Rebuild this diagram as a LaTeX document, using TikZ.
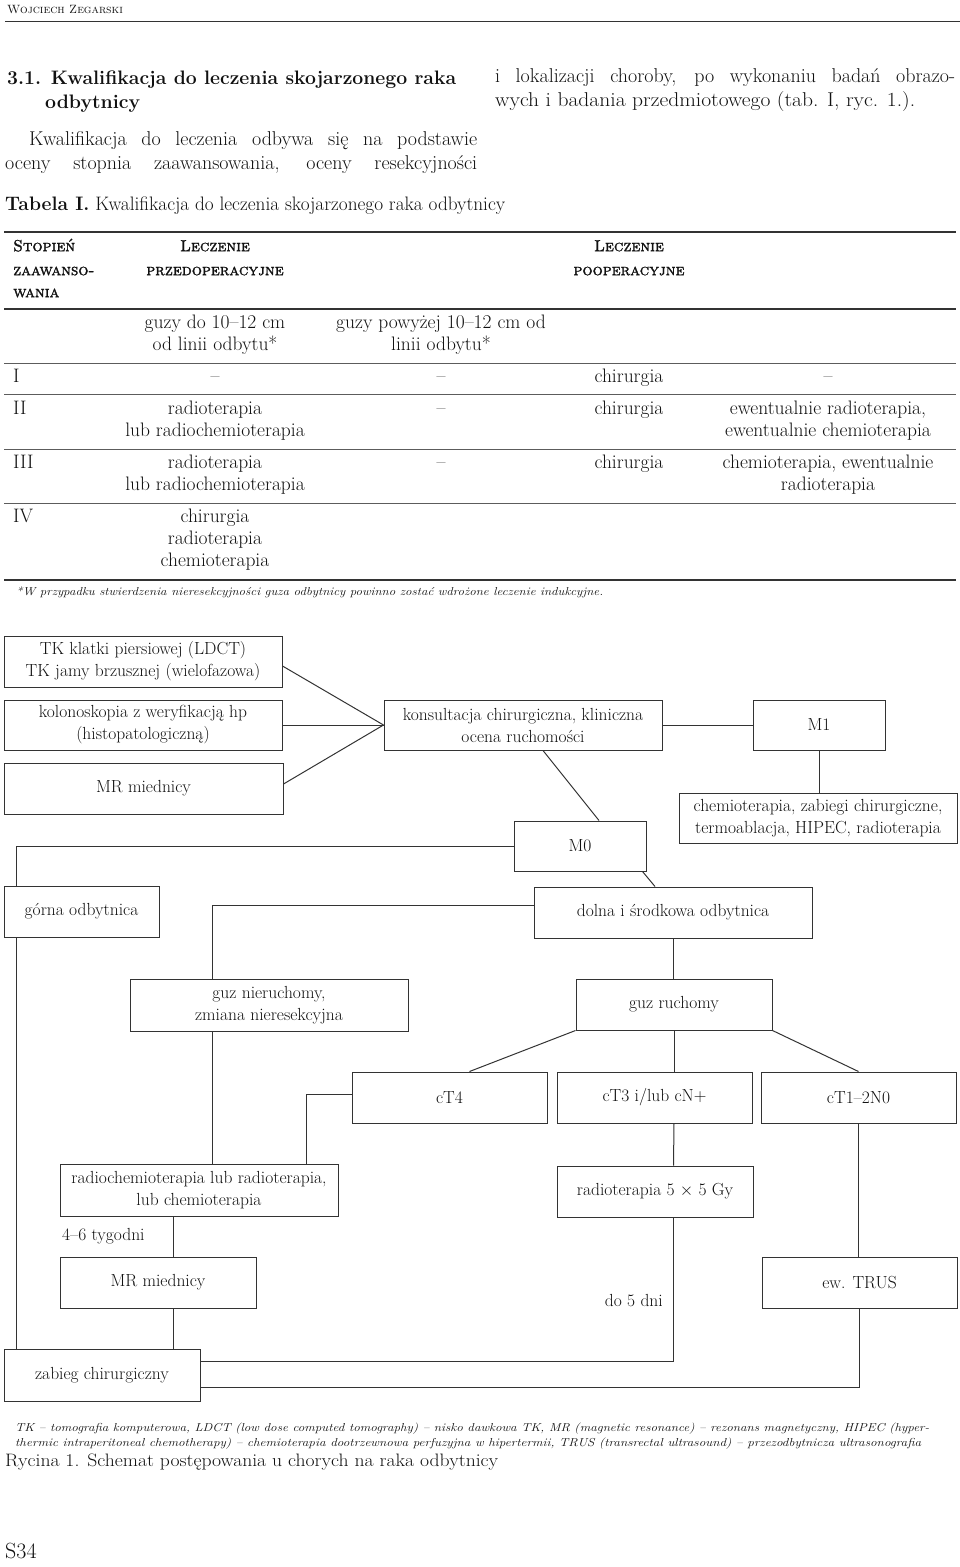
\documentclass[tikz,border=0pt]{standalone}
\usepackage{fontspec}
\usepackage{graphicx}
\usetikzlibrary{calc}
\newfontfamily\zfcapsb{lmromancaps10-regular.otf}[FakeBold=1.6]
\definecolor{ln}{HTML}{333333}
\definecolor{tx}{HTML}{111111}
\newcommand\zfSmall{\fontsize{12}{14}\selectfont}
\newcommand\zfHead{\fontsize{19.5}{24}\selectfont\bfseries}
\newcommand\zfBody{\fontsize{20}{24}\selectfont}
\newcommand\zfCell{\fontsize{19.5}{22}\selectfont}
\newcommand\zfSC{\fontsize{16}{22}\selectfont\zfcapsb}
\newcommand\zfFlow{\fontsize{17.5}{22}\selectfont}
\newcommand\zfNote{\fontsize{11.5}{15}\selectfont\itshape}
\newcommand\zfit[2]{\resizebox{#1}{\height}{#2}}
\begin{document}
\begin{tikzpicture}[x=1pt,y=-1pt,
  txt/.style={inner sep=0pt, text=tx},
  box/.style={draw=ln, line width=1pt, align=center, inner sep=1pt, text=tx, font=\zfFlow},
  conn/.style={draw=ln, line width=1pt},
  thickrule/.style={draw=ln, line width=1.7pt},
  thinrule/.style={draw=ln!80, line width=0.9pt},
  lbl/.style={inner sep=0pt, text=tx, font=\zfFlow}
]
\useasboundingbox (0,0) rectangle (960,1567);
\fill[white] (0,0) rectangle (960,1567);

% page header
\node[txt, anchor=mid west, font=\zfSmall] (hdr) at (7,11) {\textsc{Wojciech Zegarski}};
\draw[draw=ln, line width=1pt] (5,21) -- (960,21);

% section heading and text
\node[txt, anchor=mid west] (h1) at (7,82) {\zfit{449pt}{\zfHead 3.1. Kwalifikacja do leczenia skojarzonego raka}};
\node[txt, anchor=mid west] (h2) at (45,106) {\zfHead odbytnicy};
\node[txt, anchor=mid west] (p1) at (29,143) {\zfBody\makebox[448pt][s]{Kwalifikacja do leczenia odbywa się na podstawie}};
\node[txt, anchor=mid west] (p2) at (5,167) {\zfBody\makebox[472pt][s]{oceny stopnia zaawansowania, oceny resekcyjności}};
\node[txt, anchor=mid west] (p3) at (495,80) {\zfBody\makebox[460pt][s]{i lokalizacji choroby, po wykonaniu badań obrazo-}};
\node[txt, anchor=mid west] (p4) at (495,104) {\zfit{420pt}{\zfBody wych i badania przedmiotowego (tab. I, ryc. 1.).}};

\node[txt, anchor=mid west] (cap) at (5,208) {\zfit{500pt}{\fontsize{19.5}{24}\selectfont\textbf{Tabela I.} Kwalifikacja do leczenia skojarzonego raka odbytnicy}};

% table rules
\draw[thickrule] (4,232) -- (956,232);
\draw[thickrule] (4,309) -- (956,309);
\draw[thinrule] (4,363) -- (956,363);
\draw[thinrule] (4,394) -- (956,394);
\draw[thinrule] (4,449) -- (956,449);
\draw[thinrule] (4,503) -- (956,503);
\draw[thickrule] (4,580) -- (956,580);

% table header
\node[txt, anchor=mid west, font=\zfSC] (th1) at (13,249) {Stopień};
\node[txt, anchor=mid west, font=\zfSC] (th2) at (13,273) {zaawanso-};
\node[txt, anchor=mid west, font=\zfSC] (th3) at (13,295) {wania};
\node[txt, anchor=mid, font=\zfSC] (th4) at (215,249) {Leczenie};
\node[txt, anchor=mid, font=\zfSC] (th5) at (215,273) {przedoperacyjne};
\node[txt, anchor=mid, font=\zfSC] (th6) at (629,249) {Leczenie};
\node[txt, anchor=mid, font=\zfSC] (th7) at (629,273) {pooperacyjne};

\node[txt, anchor=mid, font=\zfCell] (s1) at (215,326) {guzy do 10–12 cm};
\node[txt, anchor=mid, font=\zfCell] (s2) at (215,348) {od linii odbytu*};
\node[txt, anchor=mid, font=\zfCell] (s3) at (441,326) {guzy powyżej 10–12 cm od};
\node[txt, anchor=mid, font=\zfCell] (s4) at (441,348) {linii odbytu*};

% row I
\node[txt, anchor=mid west, font=\zfCell] (r1a) at (13,380) {I};
\node[txt, anchor=mid, font=\zfCell] (r1b) at (215,380) {–};
\node[txt, anchor=mid, font=\zfCell] (r1c) at (441,380) {–};
\node[txt, anchor=mid, font=\zfCell] (r1d) at (629,380) {chirurgia};
\node[txt, anchor=mid, font=\zfCell] (r1e) at (828,380) {–};
% row II
\node[txt, anchor=mid west, font=\zfCell] (r2a) at (13,412) {II};
\node[txt, anchor=mid, font=\zfCell] (r2b) at (215,412) {radioterapia};
\node[txt, anchor=mid, font=\zfCell] (r2b2) at (215,434) {lub radiochemioterapia};
\node[txt, anchor=mid, font=\zfCell] (r2c) at (441,412) {–};
\node[txt, anchor=mid, font=\zfCell] (r2d) at (629,412) {chirurgia};
\node[txt, anchor=mid, font=\zfCell] (r2e) at (828,412) {ewentualnie radioterapia,};
\node[txt, anchor=mid, font=\zfCell] (r2e2) at (828,434) {ewentualnie chemioterapia};
% row III
\node[txt, anchor=mid west, font=\zfCell] (r3a) at (13,466) {III};
\node[txt, anchor=mid, font=\zfCell] (r3b) at (215,466) {radioterapia};
\node[txt, anchor=mid, font=\zfCell] (r3b2) at (215,488) {lub radiochemioterapia};
\node[txt, anchor=mid, font=\zfCell] (r3c) at (441,466) {–};
\node[txt, anchor=mid, font=\zfCell] (r3d) at (629,466) {chirurgia};
\node[txt, anchor=mid, font=\zfCell] (r3e) at (828,466) {chemioterapia, ewentualnie};
\node[txt, anchor=mid, font=\zfCell] (r3e2) at (828,488) {radioterapia};
% row IV
\node[txt, anchor=mid west, font=\zfCell] (r4a) at (13,520) {IV};
\node[txt, anchor=mid, font=\zfCell] (r4b) at (215,520) {chirurgia};
\node[txt, anchor=mid, font=\zfCell] (r4b2) at (215,542) {radioterapia};
\node[txt, anchor=mid, font=\zfCell] (r4b3) at (215,564) {chemioterapia};

\node[txt, anchor=mid west] (tfn) at (16,593) {\zfit{587pt}{\zfNote *W przypadku stwierdzenia nieresekcyjności guza odbytnicy powinno zostać wdrożone leczenie indukcyjne.}};

% flowchart boxes
\node[box, minimum width=278pt, minimum height=51pt] (A) at (143,661.5) {TK klatki piersiowej (LDCT)\\TK jamy brzusznej (wielofazowa)};
\node[box, minimum width=278pt, minimum height=50pt] (B) at (143,725) {kolonoskopia z weryfikacją hp\\(histopatologiczną)};
\node[box, minimum width=279pt, minimum height=51pt] (C) at (143.5,788.5) {MR miednicy};
\node[box, minimum width=278pt, minimum height=50pt] (D) at (523,725) {konsultacja chirurgiczna, kliniczna\\ocena ruchomości};
\node[box, minimum width=132pt, minimum height=50pt] (M1) at (819,725) {M1};
\node[box, minimum width=278pt, minimum height=50pt] (E) at (818,818) {chemioterapia, zabiegi chirurgiczne,\\termoablacja, HIPEC, radioterapia};
\node[box, minimum width=132pt, minimum height=50pt] (M0) at (580,846) {M0};
\node[box, minimum width=155pt, minimum height=51pt] (G) at (81.5,911.5) {górna odbytnica};
\node[box, minimum width=278pt, minimum height=51pt] (Dl) at (673,912.5) {dolna i środkowa odbytnica};
\node[box, minimum width=278pt, minimum height=52pt] (N) at (269,1005) {guz nieruchomy,\\zmiana nieresekcyjna};
\node[box, minimum width=196pt, minimum height=51pt] (R) at (674,1004.5) {guz ruchomy};
\node[box, minimum width=195pt, minimum height=51pt] (T4) at (449.5,1097.5) {cT4};
\node[box, minimum width=195pt, minimum height=51pt] (T3) at (654.5,1097.5) {cT3 i/lub cN+};
\node[box, minimum width=195pt, minimum height=51pt] (T1) at (858.5,1097.5) {cT1–2N0};
\node[box, minimum width=278pt, minimum height=52pt] (RC) at (199,1190) {radiochemioterapia lub radioterapia,\\lub chemioterapia};
\node[box, minimum width=196pt, minimum height=51pt] (MR2) at (158,1282.5) {MR miednicy};
\node[box, minimum width=196pt, minimum height=52pt] (Z) at (102,1375) {zabieg chirurgiczny};
\node[box, minimum width=196pt, minimum height=51pt] (R5) at (655,1191.5) {radioterapia 5 $\times$ 5 Gy};
\node[box, minimum width=195pt, minimum height=51pt] (TR) at (859.5,1282.5) {ew. TRUS};

% connectors
\draw[conn] ([yshift=-4.5pt]A.east) -- (D.west);
\draw[conn] (B.east) -- (D.west);
\draw[conn] ([yshift=4.5pt]C.east) -- (D.west);
\draw[conn] (D.east) -- (M1.west);
\draw[conn] (M1.south) -- (M1.south |- E.north);
\draw[conn] ([xshift=20pt]D.south) -- ([xshift=19pt]M0.north);
\draw[conn] (M0.west) -| ([xshift=13pt]G.north west);
\draw[conn] ([xshift=-4pt]M0.south east) -- ([xshift=-18pt]Dl.north);
\draw[conn] ([xshift=13pt]G.south west) -- ([xshift=13pt]Z.north west);
\draw[conn] ([yshift=7.5pt]Dl.west) -| ([xshift=-57pt]N.north);
\draw[conn] ([xshift=-57pt]N.south) -- ([xshift=13pt]RC.north);
\draw[conn] (Dl.south) -- (Dl.south |- R.north);
\draw[conn] (R.south west) -- ([xshift=20pt]T4.north);
\draw[conn] (R.south) -- (R.south |- T3.north);
\draw[conn] (R.south east) -- (T1.north);
\draw[conn] ([yshift=3.5pt]T4.west) -| ([xshift=107pt]RC.north);
\draw[conn] ([xshift=19.5pt]T3.south) -- ([xshift=18.5pt]R5.north);
\draw[conn] (T1.south) -- (T1.south |- TR.north);
\draw[conn] ([xshift=-26pt]RC.south) -- ([xshift=15pt]MR2.north);
\draw[conn] ([xshift=15pt]MR2.south) -- ([xshift=71pt]Z.north);
\draw[conn] ([yshift=14pt]Z.east) -| ([xshift=18pt]R5.south);
\draw[conn] ([yshift=-12pt]Z.east) -| (TR.south);

\node[lbl, anchor=mid west] (w46) at (62,1238) {4–6 tygodni};
\node[lbl, anchor=mid east] (d5) at (663,1304) {do 5 dni};

% figure footnote and caption
\node[txt, anchor=mid west] (fn1) at (15,1429) {\zfit{914pt}{\zfNote TK – tomografia komputerowa, LDCT (low dose computed tomography) – nisko dawkowa TK, MR (magnetic resonance) – rezonans magnetyczny, HIPEC (hyper-}};
\node[txt, anchor=mid west] (fn2) at (15,1444) {\zfit{906pt}{\zfNote thermic intraperitoneal chemotherapy) – chemioterapia dootrzewnowa perfuzyjna w hipertermii, TRUS (transrectal ultrasound) – przezodbytnicza ultrasonografia}};
\node[txt, anchor=mid west] (ryc) at (5,1464) {\zfit{493pt}{\fontsize{18}{20}\selectfont Rycina 1. Schemat postępowania u chorych na raka odbytnicy}};
\node[txt, anchor=mid west] (pg) at (5,1556) {\fontsize{22}{26}\selectfont S34};
\end{tikzpicture}
\end{document}
